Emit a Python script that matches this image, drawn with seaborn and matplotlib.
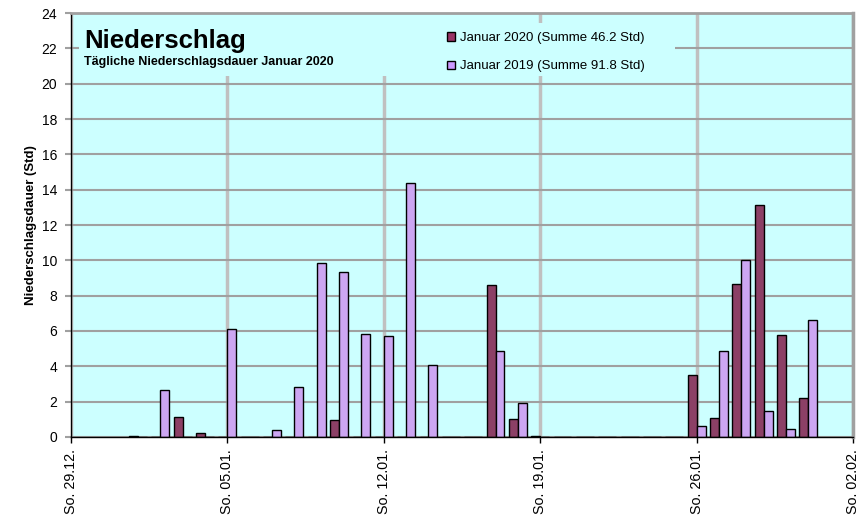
import pandas as pd
import matplotlib
matplotlib.use('Agg')
import matplotlib.pyplot as plt
from matplotlib.patches import Patch, Rectangle
import seaborn as sns

# Tage im Januar und Niederschlagsdauer in Stunden
days = list(range(1, 32))
jan_2020 = [0.05, 0, 1.15, 0.2, 0, 0, 0, 0, 0, 0.95, 0, 0, 0, 0, 0, 0,
            8.6, 1.0, 0.05, 0, 0, 0, 0, 0, 0, 3.5, 1.1, 8.65, 13.15, 5.8, 2.2]
jan_2019 = [0, 2.65, 0, 0, 6.1, 0, 0.4, 2.85, 9.85, 9.35, 5.85, 5.7, 14.4, 4.05, 0, 0,
            4.85, 1.9, 0, 0, 0, 0, 0, 0, 0, 0.65, 4.85, 10.0, 1.45, 0.45, 6.6]
series_names = ['Januar 2020 (Summe 46.2 Std)', 'Januar 2019 (Summe 91.8 Std)']
series_colors = ['#993366', '#CC99FF']

# Achsenbeschriftung: Sonntage (Tag relativ zum 1. Januar)
tick_days = [-2, 5, 12, 19, 26, 33]
tick_labels = ['So. 29.12.', 'So. 05.01.', 'So. 12.01.', 'So. 19.01.', 'So. 26.01.', 'So. 02.02.']

df = pd.DataFrame({
    'Tag': days * 2,
    'Stunden': jan_2020 + jan_2019,
    'Serie': [series_names[0]] * len(days) + [series_names[1]] * len(days),
})

plt.rcParams['font.family'] = ['Liberation Sans', 'DejaVu Sans']

fig = plt.figure(figsize=(8.67, 5.15), dpi=100)
ax = fig.add_axes([71 / 867, 1 - 437 / 515, 782 / 867, 424 / 515])
ax.set_facecolor('#CCFFFF')

sns.barplot(data=df, x='Tag', y='Stunden', hue='Serie', native_scale=True,
            palette=dict(zip(series_names, series_colors)), hue_order=series_names,
            edgecolor='black', linewidth=1, width=0.8, dodge=True, legend=False, ax=ax)

ax.set_xlim(tick_days[0], tick_days[-1])
ax.set_ylim(0, 24)
ax.set_yticks(range(0, 25, 2))
ax.set_xticks(tick_days)
ax.set_xticklabels(tick_labels, rotation=90, fontsize=10.3)
ax.tick_params(axis='y', labelsize=10, length=4, width=1.5, color='#A0A0A0', pad=6)
ax.tick_params(axis='x', length=4, width=1, color='black', pad=5)
ax.set_xlabel('')
ax.set_ylabel('Niederschlagsdauer (Std)', fontsize=9.5, fontweight='bold', labelpad=3)

ax.set_axisbelow(True)
ax.grid(axis='y', color='#A0A0A0', linewidth=1.5)
ax.grid(axis='x', color='#C0C0C0', linewidth=2.5)

for side in ['left', 'bottom']:
    ax.spines[side].set_color('black')
    ax.spines[side].set_linewidth(1)
ax.spines['top'].set_color('#A0A0A0')
ax.spines['top'].set_linewidth(2)
ax.spines['right'].set_color('#A0A0A0')
ax.spines['right'].set_linewidth(2.5)

# Hintergrund hinter Titel und Legende (verdeckt Gitterlinien)
ax.add_patch(Rectangle((0.010, 0.851), 0.470, 0.149, transform=ax.transAxes,
                       facecolor='#CCFFFF', edgecolor='none', zorder=0.7))
ax.add_patch(Rectangle((0.480, 0.851), 0.292, 0.125, transform=ax.transAxes,
                       facecolor='#CCFFFF', edgecolor='none', zorder=0.7))

fig.text(84 / 867, 1 - 48 / 515, 'Niederschlag', fontsize=18.5, fontweight='bold',
         ha='left', va='baseline')
fig.text(84 / 867, 1 - 65 / 515, 'Tägliche Niederschlagsdauer Januar 2020', fontsize=9,
         fontweight='bold', ha='left', va='baseline')

handles = [Patch(facecolor=c, edgecolor='black', linewidth=1) for c in series_colors]
ax.legend(handles, series_names, loc='upper left',
          bbox_to_anchor=((447 - 71) / 782, 1 - (32 - 13) / 424),
          frameon=False, fontsize=9.5, labelspacing=1.25, handlelength=0.6,
          handleheight=0.6, handletextpad=0.35, borderpad=0, borderaxespad=0)

fig.savefig('out.png', dpi=100)
